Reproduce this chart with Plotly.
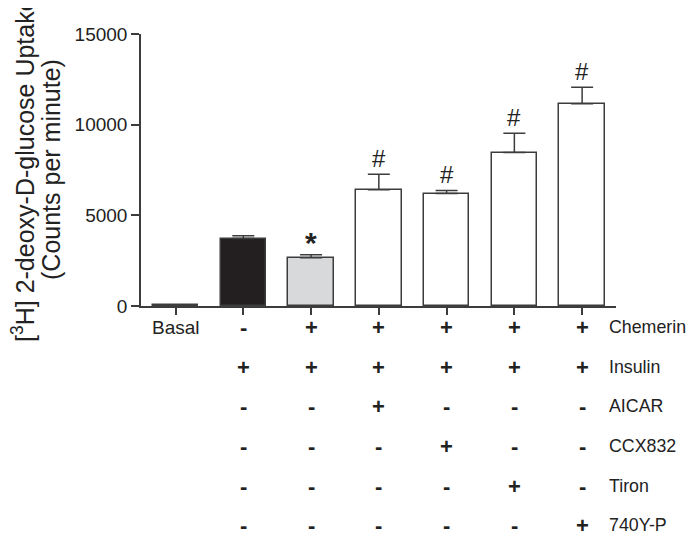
import plotly.graph_objects as go

# glucose uptake per condition (counts per minute)
groups = ["Basal", "Insulin", "Chemerin+Insulin", "AICAR", "CCX832", "Tiron", "740Y-P"]
uptake = [40, 3720, 2660, 6410, 6200, 8460, 11160]
sem = [0, 150, 165, 860, 170, 1070, 900]
marks = ["", "", "*", "#", "#", "#", "#"]
bar_fill = ["white", "#231f20", "#d8d9da", "white", "white", "white", "white"]

# treatment table below the axis
row_names = ["Chemerin", "Insulin", "AICAR", "CCX832", "Tiron", "740Y-P"]
row_signs = [
    ["Basal", "-", "+", "+", "+", "+", "+"],
    ["", "+", "+", "+", "+", "+", "+"],
    ["", "-", "-", "+", "-", "-", "-"],
    ["", "-", "-", "-", "+", "-", "-"],
    ["", "-", "-", "-", "-", "+", "-"],
    ["", "-", "-", "-", "-", "-", "+"],
]

y_ticks = [0, 5000, 10000, 15000]

ink = "#3c3c3c"
font = "Liberation Sans, Arial, sans-serif"
xpos = list(range(len(groups)))

fig = go.Figure()
fig.add_trace(go.Bar(
    x=xpos, y=uptake, width=0.67,
    marker=dict(color=bar_fill, line=dict(color=ink, width=1.5)),
    error_y=dict(type="data", array=sem, arrayminus=[0] * len(sem),
                 symmetric=False, color=ink, thickness=1.5, width=11),
    hoverinfo="skip",
))

ann = []
for i, m in enumerate(marks):
    if m:
        txt = "<b>*</b>" if m == "*" else m
        ann.append(dict(x=i, y=uptake[i] + sem[i], xref="x", yref="y", text=txt,
                        showarrow=False, yanchor="bottom", yshift=0 if m == "#" else -6,
                        font=dict(size=30 if m == "*" else 24, color="#222")))

row_px = [21, 61, 100, 140, 180, 219]  # pixels below the x axis
for r, name in enumerate(row_names):
    for i, s in enumerate(row_signs[r]):
        if s:
            txt = s if s == "Basal" else "<b>" + s + "</b>"
            ann.append(dict(x=i, y=0, xref="x", yref="paper", text=txt,
                            showarrow=False, yanchor="middle", yshift=-row_px[r],
                            font=dict(size=19 if s == "Basal" else 22, color="#222")))
    ann.append(dict(x=0.982, y=0, xref="paper", yref="paper", text=name,
                    showarrow=False, xanchor="left", yanchor="middle",
                    yshift=-row_px[r], font=dict(size=17.8, color="#222")))

# y-axis title as two rotated lines
ann.append(dict(x=0, y=0.5, xref="paper", yref="paper", xshift=-118,
                xanchor="center", yanchor="middle",
                text="[<sup>3</sup>H] 2-deoxy-D-glucose Uptake", textangle=-90,
                showarrow=False, font=dict(size=25, color="#222")))
ann.append(dict(x=0, y=0.5, xref="paper", yref="paper", xshift=-90,
                xanchor="center", yanchor="middle",
                text="(Counts per minute)", textangle=-90,
                showarrow=False, font=dict(size=25, color="#222")))

fig.update_layout(
    width=688, height=530,
    margin=dict(l=133, r=80, t=26, b=232),
    plot_bgcolor="white", paper_bgcolor="white",
    font=dict(family=font, color="#222", size=19),
    showlegend=False,
    bargap=0,
    annotations=ann,
    xaxis=dict(range=[-0.51, 6.5], tickvals=xpos, ticktext=[""] * len(xpos),
               showline=True, linecolor=ink, linewidth=1.5,
               ticks="outside", ticklen=7, tickwidth=1.5, tickcolor=ink,
               showgrid=False, zeroline=False, fixedrange=True),
    yaxis=dict(range=[0, 15000], tickvals=y_ticks, ticktext=[str(v) for v in y_ticks],
               showline=True, linecolor=ink, linewidth=1.5,
               ticks="outside", ticklen=8, tickwidth=1.5, tickcolor=ink,
               tickfont=dict(size=19),
               showgrid=False, zeroline=False),
)

fig.write_html("out.html")
